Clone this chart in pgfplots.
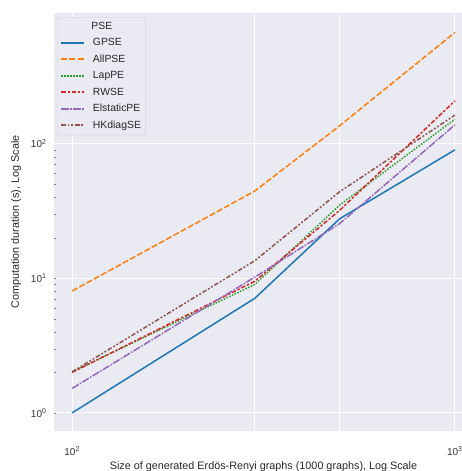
\documentclass[border=0pt]{standalone}
\usepackage{fontspec}
\setmainfont{Liberation Sans}
\usepackage{pgfplots}
\pgfplotsset{compat=1.18}
\definecolor{bg}{HTML}{EAEAF2}
\definecolor{c0}{HTML}{1F77B4}
\definecolor{c1}{HTML}{FF7F0E}
\definecolor{c2}{HTML}{2CA02C}
\definecolor{c3}{HTML}{D62728}
\definecolor{c4}{HTML}{9467BD}
\definecolor{c5}{HTML}{8C564B}
\begin{document}
\begin{tikzpicture}
\begin{axis}[name=ax, scale only axis, width=421pt, height=420pt,
  xmode=log, ymode=log,
  xmin=89.13, xmax=1122, ymin=0.7211, ymax=952,
  axis background/.style={fill=bg},
  axis line style={white, line width=1.25pt},
  grid=major, major grid style={white, line width=1pt},
  minor tick num=0, xminorgrids=false, yminorgrids=false,
  minor xtick={}, minor ytick={},
  major tick length=0pt,
  xtick={100,300,500,1000},
  xticklabels={10\textsuperscript{2},,,10\textsuperscript{3}},
  ytick={1,10,100},
  yticklabels={10\textsuperscript{0},10\textsuperscript{1},10\textsuperscript{2}},
  tick label style={font=\fontsize{10}{12}\selectfont, color=black!80},
  xticklabel style={yshift=-11pt},
  yticklabel style={xshift=-3pt},
  xlabel={Size of generated Erdös-Renyi graphs (1000 graphs), Log Scale},
  ylabel={Computation duration (s), Log Scale},
  label style={font=\fontsize{10.8}{13}\selectfont, color=black!85},
  xlabel style={yshift=0pt},
  ylabel style={yshift=3pt},
  legend style={at={(rel axis cs:0.0095,0.988)}, anchor=north west,
    fill=bg, draw=black!20, rounded corners=2pt,
    font=\fontsize{10.4}{12.5}\selectfont, text=black!85, row sep=3.6pt, inner sep=3pt},
  legend cell align=left,
  legend image code/.code={\draw[#1, line width=2pt, line cap=butt] (0pt,0pt) -- (23pt,0pt); \path (29pt,0pt);},
  every axis plot/.append style={line width=1.5pt},
]
\addlegendimage{empty legend}
\addlegendentry{\hspace{-1.5pt}PSE}
\addplot[c0, solid] coordinates {(100,1.0) (300,7.1) (500,27.7) (1000,90)};
\addlegendentry{GPSE}
\addplot[c1, dash pattern=on 6pt off 2.25pt] coordinates {(100,8.05) (300,44.5) (500,136) (1000,670)};
\addlegendentry{AllPSE}
\addplot[c2, dash pattern=on 1.5pt off 1.5pt] coordinates {(100,2.02) (300,9.0) (500,35) (1000,152)};
\addlegendentry{LapPE}
\addplot[c3, dash pattern=on 4.5pt off 1.875pt on 2.25pt off 1.875pt] coordinates {(100,2.0) (300,9.5) (500,32) (1000,208)};
\addlegendentry{RWSE}
\addplot[c4, dash pattern=on 7.5pt off 1.5pt on 1.5pt off 1.5pt] coordinates {(100,1.52) (300,10.2) (500,25.5) (1000,138)};
\addlegendentry{ElstaticPE}
\addplot[c5, dash pattern=on 4.5pt off 1.875pt on 1.875pt off 1.875pt on 1.875pt off 1.875pt] coordinates {(100,2.02) (300,13.5) (500,44) (1000,163)};
\addlegendentry{HKdiagSE}
\end{axis}
\pgfresetboundingbox
\path[use as bounding box] (ax.south west) ++(-53pt,-39pt) rectangle ([xshift=-12pt,yshift=12pt]ax.north east);
\end{tikzpicture}
\end{document}
